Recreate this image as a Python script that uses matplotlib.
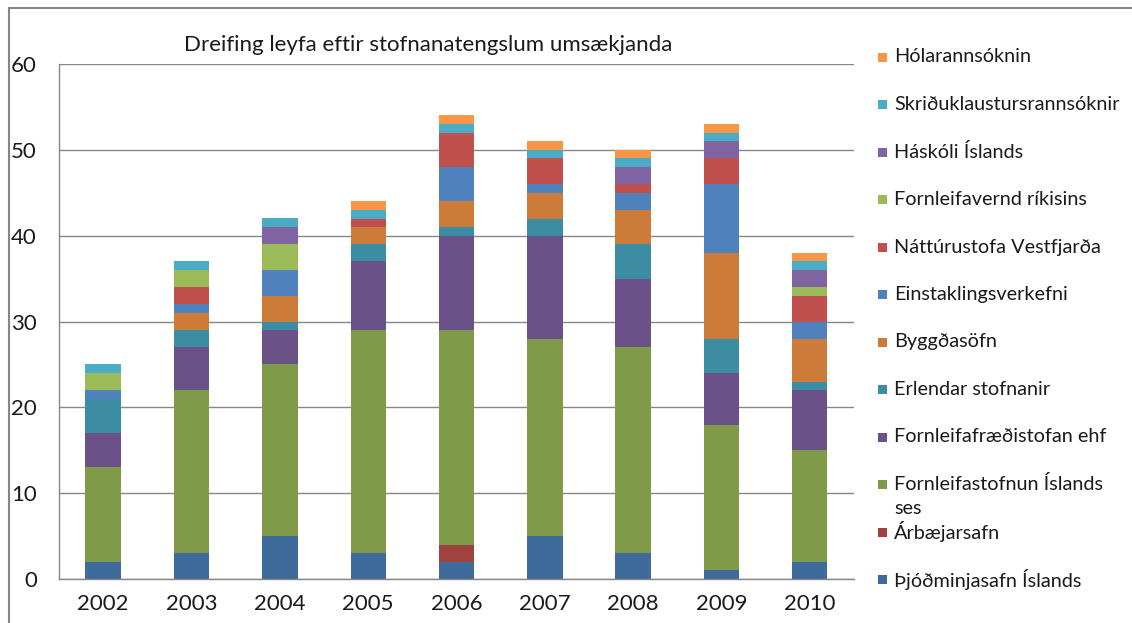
"""
Dreifing leyfa eftir stofnanatengslum umsækjanda, 2002-2010 (stacked bars).
"""

import matplotlib

matplotlib.use("Agg")
import matplotlib.pyplot as plt
import numpy as np
from matplotlib.lines import Line2D
from matplotlib.patches import Rectangle

plt.rcParams["font.family"] = ["Lato", "DejaVu Sans"]

years = ["2002", "2003", "2004", "2005", "2006", "2007", "2008", "2009", "2010"]

# bottom to top of the stack
groups = [
    "Þjóðminjasafn Íslands",
    "Árbæjarsafn",
    "Fornleifastofnun Íslands\nses",
    "Fornleifafræðistofan ehf",
    "Erlendar stofnanir",
    "Byggðasöfn",
    "Einstaklingsverkefni",
    "Náttúrustofa Vestfjarða",
    "Fornleifavernd ríkisins",
    "Háskóli Íslands",
    "Skriðuklaustursrannsóknir",
    "Hólarannsóknin",
]

thjodminjasafn = [2, 3, 5, 3, 2, 5, 3, 1, 2]
arbaejarsafn = [0, 0, 0, 0, 2, 0, 0, 0, 0]
fornleifastofnun = [11, 19, 20, 26, 25, 23, 24, 17, 13]
fornleifafraedistofan = [4, 5, 4, 8, 11, 12, 8, 6, 7]
erlendar = [4, 2, 1, 2, 1, 2, 4, 4, 1]
byggdasofn = [0, 2, 3, 2, 3, 3, 4, 10, 5]
einstaklings = [1, 1, 3, 0, 4, 1, 2, 8, 2]
natturustofa = [0, 2, 0, 1, 4, 3, 1, 3, 3]
fornleifavernd = [2, 2, 3, 0, 0, 0, 0, 0, 1]
haskoli = [0, 0, 2, 0, 0, 0, 2, 2, 2]
skriduklaustur = [1, 1, 1, 1, 1, 1, 1, 1, 1]
holar = [0, 0, 0, 1, 1, 1, 1, 1, 1]

series = [thjodminjasafn, arbaejarsafn, fornleifastofnun, fornleifafraedistofan,
          erlendar, byggdasofn, einstaklings, natturustofa, fornleifavernd,
          haskoli, skriduklaustur, holar]

colors = ["#3F6A9C", "#A0423F", "#7F9A48", "#6A5187", "#3C8DA3", "#CC7B38",
          "#4F81BD", "#C0504D", "#9BBB59", "#8064A2", "#4BACC6", "#F79646"]

W, H = 1132, 623
fig = plt.figure(figsize=(W / 100, H / 100), dpi=100)
ax = fig.add_axes([59 / W, 1 - 579 / H, 795 / W, 515 / H])

x = np.arange(len(years))
bottom = np.zeros(len(years))
for vals, col, name in zip(series, colors, groups):
    ax.bar(x, vals, 0.4, bottom=bottom, color=col, label=name, linewidth=0)
    bottom += np.array(vals)

ax.set_xlim(-0.5, len(years) - 0.5)
ax.set_ylim(0, 60)
ax.set_yticks(range(0, 61, 10))
ax.set_xticks(x)
ax.set_xticklabels(years)
ax.yaxis.grid(True, color="#878787", linewidth=1)
ax.set_axisbelow(True)
ax.tick_params(axis="both", length=0, labelsize=16, colors="#1a1a1a")
ax.tick_params(axis="y", pad=16)
ax.tick_params(axis="x", pad=11)
for s in ["top", "right"]:
    ax.spines[s].set_visible(False)
for s in ["left", "bottom"]:
    ax.spines[s].set_color("#878787")
    ax.spines[s].set_linewidth(1)

fig.text(428 / W, 1 - 45 / H, "Dreifing leyfa eftir stofnanatengslum umsækjanda",
         ha="center", va="center", fontsize=16, color="#1a1a1a")

# legend, top entry first
for i, (name, col) in enumerate(zip(groups[::-1], colors[::-1])):
    yc = 57 + i * 47.5
    fig.add_artist(Rectangle((878 / W, 1 - (yc + 4.5) / H), 9 / W, 9 / H,
                             transform=fig.transFigure, color=col, lw=0))
    for j, line in enumerate(name.split("\n")):
        fig.text(894 / W, 1 - (yc + j * 24) / H, line, ha="left", va="center",
                 fontsize=14.3, color="#1a1a1a")

# outer chart frame
fig.add_artist(Line2D([9 / W, 1], [1 - 8 / H, 1 - 8 / H], transform=fig.transFigure,
                      color="#868686", lw=1.5))
fig.add_artist(Line2D([9 / W, 9 / W], [0, 1 - 8 / H], transform=fig.transFigure,
                      color="#868686", lw=1.5))

fig.savefig("out.png", dpi=100)
